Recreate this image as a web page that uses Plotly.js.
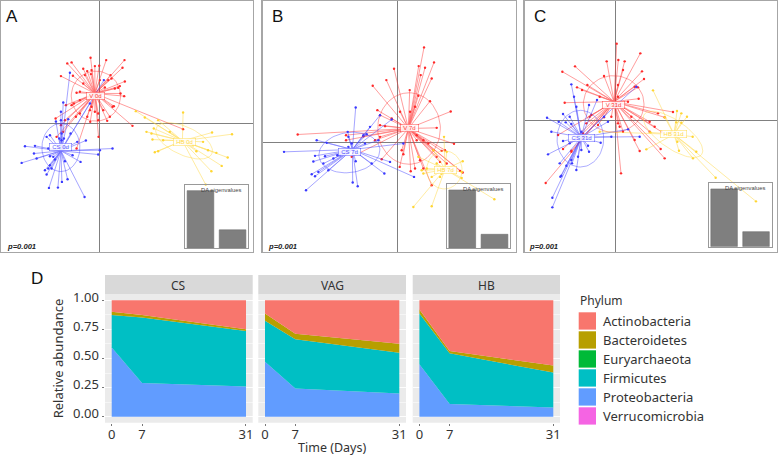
<!DOCTYPE html>
<html><head><meta charset="utf-8">
<script src="https://cdn.plot.ly/plotly-3.0.1.min.js"></script>
<style>html,body{margin:0;padding:0;background:#fff}#c{width:778px;height:456px}</style>
</head><body><div id="c"></div>
<script>
// Ordination scores: [discriminant 1, discriminant 2]
const aRed=[[-96,180],[-83,183],[-26,197],[21,190],[76,190],[-48,164],[-23,160],[0,173],[-13,172],[70,167],[-115,142],[-79,143],[-43,145],[-36,157],[-25,148],[34,145],[37,135],[77,126],[62,112],[57,107],[47,105],[-68,92],[-100,55],[-83,55],[-58,70],[64,90],[75,82],[40,50],[44,52],[32,20],[24,8],[-2,-40],[-3,10],[-27,5],[-36,20],[-58,30],[-70,20],[-131,15],[-103,10],[-115,-5],[-128,-40],[-108,-25],[100,-7],[252,-17],[-68,-75],[-3,30],[12,40],[-23,50],[-28,40],[-13,35],[-48,120],[2,130],[27,130],[17,108],[-58,95],[-76,60]];
const aBlue=[[-88,152],[-108,63],[-115,35],[-93,13],[-115,10],[-130,6],[-158,-40],[-148,-35],[-223,-68],[-193,-67],[-196,-90],[-233,-118],[-188,-105],[-163,-140],[-158,-153],[-143,-135],[-151,-193],[-124,-192],[-112,-175],[-95,-167],[-103,-113],[-80,-95],[-56,-115],[-44,-220],[-40,-51],[-66,-55],[2,-80],[40,-75],[-3,-93],[-113,-50],[-120,-45],[-113,-30],[-106,-45],[-153,-75],[-148,-98],[-138,-100],[-148,-125],[-153,-135],[-133,-108],[-105,-70],[14,130],[-28,60],[-86,-30]];
const aYellow=[[110,37],[252,33],[137,18],[177,10],[164,-15],[142,-25],[160,-48],[157,-30],[339,-27],[399,-32],[320,-183],[337,-143],[368,-127],[386,-102],[352,-88],[327,-80],[292,-83],[312,-55],[167,-86],[177,-83],[192,-50],[212,-25],[282,-65]];
const bRed=[[80,286],[110,241],[-10,222],[64,230],[83,225],[70,203],[103,193],[-33,188],[-74,171],[37,158],[63,141],[98,125],[160,94],[-60,98],[-52,83],[53,108],[38,93],[8,93],[-17,73],[-52,53],[-37,50],[-299,25],[118,45],[170,-3],[143,-22],[133,-24],[196,-89],[188,-84],[148,-62],[128,-57],[118,-42],[103,-127],[78,-77],[68,-52],[53,-77],[40,-85],[7,-72],[18,-34],[13,-22],[-47,-49],[-137,-42],[-154,8],[-154,23],[-102,20],[-52,18],[-67,8],[78,8],[93,-2],[108,-22],[58,8],[58,23],[18,48],[28,38]];
const bBlue=[[-125,106],[-52,83],[-17,70],[-82,48],[-149,33],[-147,18],[-212,0],[-242,8],[-340,-27],[-247,-39],[-217,-40],[-252,-56],[-222,-62],[-192,-47],[-257,-94],[-247,-100],[-237,-87],[-207,-82],[-274,-142],[-134,-119],[-119,-130],[-39,-92],[50,-102],[-22,-57],[-77,-62],[-125,-55],[-147,-12],[-92,26],[-57,8],[18,-2],[-97,-2],[-102,23],[-137,-2],[-172,-37],[-180,-37]];
const bYellow=[[140,18],[196,-55],[193,-87],[193,-105],[291,-169],[48,-192],[103,-190],[128,-102],[103,-102],[78,-92],[88,-77],[108,-22],[148,-27],[73,-82],[133,-92],[118,-62],[63,-42]];
const cRed=[[4,230],[75,201],[-26,177],[9,181],[28,177],[-121,162],[-159,146],[80,147],[23,151],[86,124],[-34,133],[8,106],[58,101],[68,99],[-115,99],[-100,91],[-84,106],[70,65],[38,56],[-152,53],[-47,71],[8,71],[173,25],[128,21],[148,9],[136,-86],[148,-114],[73,-92],[58,-59],[17,-159],[23,-34],[13,-19],[-12,11],[-34,9],[-87,-9],[-97,-39],[-172,-44],[-157,-86],[-132,-91],[-209,-188],[-132,-94],[118,-19],[138,-34],[48,11],[8,-9],[103,-4],[-52,-14],[-72,16],[-77,11],[103,-34]];
const cBlue=[[63,101],[-55,61],[-132,108],[-124,71],[-117,41],[-79,46],[-157,19],[-205,8],[-170,-4],[-149,-6],[-137,11],[-132,-11],[-192,-34],[-157,-62],[-137,-69],[-202,-102],[-167,-129],[-82,-76],[-79,-94],[-44,-67],[73,-49],[-12,-49],[38,-27],[-22,-4],[-34,11],[-102,-34],[-132,-119],[-147,-136],[-117,-149],[-130,-129],[-165,-169],[-162,-166],[-189,-232],[-189,-261],[-102,-89],[-112,-109]];
const cYellow=[[113,90],[185,28],[198,21],[215,11],[148,9],[183,-6],[198,-7],[232,-49],[105,-36],[93,-87],[243,-94],[233,-114],[191,-91],[186,-64],[301,-172],[422,-243],[-47,-34],[168,-34]];
// centroids of the groups
const aCentroids=[[-13,90],[-115,-82],[250,-52]];
const bCentroids=[[33,43],[-135,-20],[143,-79]];
const cCentroids=[[-4,56],[-102,-51],[176,-42]];
// inertia ellipses: centre x, centre y, semi-axis 1, semi-axis 2, tilt in degrees
const aEllipses=[[-10,82,74,75,0],[-115,-72,72,57,90],[255,-52,92,42,-25]];
const bEllipses=[[35,43,107,94,90],[-144,-29,92,60,8],[141,-81,57,53,90]];
const cEllipses=[[-5,49,91,85,0],[-105,-55,85,70,90],[173,-42,105,42,-35]];
const aLabels=['V 0d','CS 0d','HB 0d'];
const bLabels=['V 7d','CS 7d','HB 7d'];
const cLabels=['V 31d','CS 31d','HB 31d'];
const aLabelAt=[[-11,82],[-115,-70],[255,-54]];
const bLabelAt=[[35,43],[-144,-27],[143,-81]];
const cLabelAt=[[-7,45],[-102,-53],[174,-42]];
const aEigen=[1,0.32], bEigen=[1,0.24], cEigen=[1,0.26];
const pValue='p=0.001';

// Relative abundance by day
const days=[0,7,31];
const phyla=['Actinobacteria','Bacteroidetes','Euryarchaeota','Firmicutes','Proteobacteria','Verrucomicrobia'];
const phylumColors=['#F8766D','#B79F00','#00BA38','#00BFC4','#619CFF','#F564E3'];
const csValues=[[0.10,0.128,0.25],[0.028,0.02,0.015],[0,0,0],[0.277,0.562,0.475],[0.595,0.29,0.26],[0,0,0]];
const vagValues=[[0.114,0.288,0.373],[0.063,0.048,0.077],[0,0,0],[0.35,0.422,0.35],[0.473,0.242,0.20],[0,0,0]];
const hbValues=[[0.08,0.436,0.56],[0.034,0.02,0.061],[0,0,0],[0.436,0.434,0.299],[0.45,0.11,0.08],[0,0,0]];
const facets=['CS','VAG','HB'];
const yTicks=[0,0.25,0.5,0.75,1];
const yTickText=['0.00','0.25','0.50','0.75','1.00'];

const W=778,H=456;
const px=(a,b)=>[a/W,b/W], py=(top,bot)=>[1-bot/H,1-top/H];
const SF='Liberation Sans, Arial, sans-serif', BF='Noto Sans, sans-serif', INK='#333333';
const groupColors=['#ff2a2a','#3a3aff','#ffd633'];
const traces=[], shapes=[], annotations=[], layout={};

function ellipse(e){const xs=[],ys=[],t=e[4]*Math.PI/180;
  for(let i=0;i<=72;i++){const u=i/72*2*Math.PI,p=e[2]*Math.cos(u),q=e[3]*Math.sin(u);
    xs.push(e[0]+p*Math.cos(t)-q*Math.sin(t));ys.push(e[1]+p*Math.sin(t)+q*Math.cos(t));}
  return [xs,ys];}
function note(x,y,text,font,xanchor){annotations.push({xref:'paper',yref:'paper',x:x/W,y:1-y/H,xanchor:xanchor||'center',yanchor:'middle',text,showarrow:false,font});}

const panels=[
 {id:'',dx:[1,253],dy:[1,252],rx:[-295,462],ry:[-385,367],g:[aRed,aBlue,aYellow],c:aCentroids,e:aEllipses,l:aLabels,at:aLabelAt,
  inset:{id:4,x:[185,248.3],y:[185,248.3],v:aEigen},letter:'A',lx:12,px:4.5},
 {id:2,dx:[262.7,515.7],dy:[1,252],rx:[-404,355],ry:[-327,425],g:[bRed,bBlue,bYellow],c:bCentroids,e:bEllipses,l:bLabels,at:bLabelAt,
  inset:{id:5,x:[446.7,510.3],y:[184.3,248.3],v:bEigen},letter:'B',lx:277.5,px:266},
 {id:3,dx:[524.7,777.3],dy:[1,251.7],rx:[-272,486],ry:[-394,358],g:[cRed,cBlue,cYellow],c:cCentroids,e:cEllipses,l:cLabels,at:cLabelAt,
  inset:{id:6,x:[708.7,771.7],y:[183.3,246.7],v:cEigen},letter:'C',lx:540,px:527}
];
panels.forEach(P=>{
  const xa='x'+P.id, ya='y'+P.id, xk='xaxis'+P.id, yk='yaxis'+P.id;
  const ax={showgrid:false,showticklabels:false,ticks:'',zeroline:true,zerolinecolor:'#808080',zerolinewidth:1,
            showline:true,linecolor:'#a6a6a6',linewidth:1.3,mirror:true};
  layout[xk]=Object.assign({},ax,{domain:px(P.dx[0],P.dx[1]),range:P.rx,anchor:ya});
  layout[yk]=Object.assign({},ax,{domain:py(P.dy[0],P.dy[1]),range:P.ry,anchor:xa});
  P.g.forEach((pts,k)=>{
    const lx=[],ly=[];
    pts.forEach(p=>{lx.push(P.c[k][0],p[0],null);ly.push(P.c[k][1],p[1],null);});
    traces.push({type:'scatter',mode:'lines',x:lx,y:ly,xaxis:xa,yaxis:ya,showlegend:false,hoverinfo:'skip',
      line:{color:groupColors[k],width:0.65},opacity:0.7});
    const el=ellipse(P.e[k]);
    traces.push({type:'scatter',mode:'lines',x:el[0],y:el[1],xaxis:xa,yaxis:ya,showlegend:false,hoverinfo:'skip',
      line:{color:groupColors[k],width:0.6},opacity:0.7});
    traces.push({type:'scatter',mode:'markers',x:pts.map(p=>p[0]),y:pts.map(p=>p[1]),xaxis:xa,yaxis:ya,showlegend:false,
      marker:{color:groupColors[k],size:2.4}});
    annotations.push({xref:xa,yref:ya,x:P.at[k][0],y:P.at[k][1],text:P.l[k],showarrow:false,
      width:P.l[k].length*4.2,height:5.5,
      font:{family:SF,size:6,color:groupColors[k]},bgcolor:'#ffffff',bordercolor:groupColors[k],borderwidth:0.5,borderpad:0.5,opacity:0.85});
  });
  // eigenvalue inset
  const n=P.inset.id;
  layout['xaxis'+n]={domain:px(P.inset.x[0],P.inset.x[1]),range:[-0.482,1.49],anchor:'y'+n,showgrid:false,showticklabels:false,ticks:'',zeroline:false,
    showline:true,linecolor:'#999999',linewidth:1,mirror:true};
  layout['yaxis'+n]={domain:py(P.inset.y[0],P.inset.y[1]),range:[0,1.098],anchor:'x'+n,showgrid:false,showticklabels:false,ticks:'',zeroline:false,
    showline:true,linecolor:'#999999',linewidth:1,mirror:true};
  traces.push({type:'bar',x:[0,1],y:P.inset.v,xaxis:'x'+n,yaxis:'y'+n,width:0.83,showlegend:false,
    marker:{color:'#7f7f7f',line:{color:'#6e6e6e',width:0.6}}});
  note(P.inset.x[1]-5,P.inset.y[0]+5,'DA eigenvalues',{family:SF,size:5.8,color:'#444'},'right');
  note(P.lx,16,P.letter,{family:SF,size:17,color:'#111'});
  note(P.px,246,'<b><i>'+pValue+'</i></b>',{family:SF,size:7.6,color:'#222'},'left');
});

// Facets
const facetValues=[csValues,vagValues,hbValues];
const facetX=[[105,252.7],[258.3,406],[412.7,560]];
facetValues.forEach((vals,f)=>{
  const n=7+f, xa='x'+n, ya='y'+n;
  layout['xaxis'+n]={domain:px(facetX[f][0],facetX[f][1]),range:[-1.55,32.55],anchor:ya,tickvals:days,ticktext:days.map(String),
    ticks:'outside',ticklen:2.5,tickcolor:'#555',tickwidth:0.8,showgrid:false,zeroline:false,showline:false,ticklabelstandoff:-3,
    tickfont:{family:BF,size:13,color:INK}};
  layout['yaxis'+n]={domain:py(294.3,422.7),range:[-0.05,1.05],anchor:xa,tickvals:yTicks,ticktext:f===0?yTickText:yTicks.map(()=>''),
    ticks:f===0?'outside':'',ticklen:2.5,tickcolor:'#555',tickwidth:0.8,showgrid:true,gridcolor:'#ffffff',gridwidth:0.9,zeroline:false,showline:false,ticklabelshift:-3,
    minor:{tick0:0.125,dtick:0.25,showgrid:true,gridcolor:'#ffffff',gridwidth:0.5,ticks:''},
    tickfont:{family:BF,size:13,color:INK}};
  shapes.push({type:'rect',xref:xa+' domain',yref:ya+' domain',x0:0,x1:1,y0:0,y1:1,layer:'below',fillcolor:'#ebebeb',line:{width:0}});
  shapes.push({type:'rect',xref:'paper',yref:'paper',x0:facetX[f][0]/W,x1:facetX[f][1]/W,y0:1-294.3/H,y1:1-275/H,layer:'below',fillcolor:'#d9d9d9',line:{width:0}});
  note((facetX[f][0]+facetX[f][1])/2,285,facets[f],{family:BF,size:12,color:INK});
  for(let k=phyla.length-1;k>=0;k--){
    traces.push({type:'scatter',mode:'none',x:days,y:vals[k],xaxis:xa,yaxis:ya,stackgroup:'s'+f,name:phyla[k],showlegend:false,
      fillcolor:phylumColors[k],line:{width:0}});
  }
});
layout.yaxis7.title={text:'Relative abundance',font:{family:BF,size:13,color:INK},standoff:6};
layout.xaxis8.title={text:'Time (Days)',font:{family:BF,size:12.5,color:INK},standoff:4};

// Panel D letter and phylum key
note(37,278.5,'D',{family:SF,size:17,color:'#111'});
note(578,300.7,'Phylum',{family:BF,size:12,color:INK},'left');
phyla.forEach((name,k)=>{
  const top=312.3+k*19;
  shapes.push({type:'rect',xref:'paper',yref:'paper',x0:578.7/W,x1:596/W,y0:1-(top+17.3)/H,y1:1-top/H,fillcolor:phylumColors[k],line:{width:0}});
  note(601,top+8.6,name,{family:BF,size:13,color:INK},'left');
});

Object.assign(layout,{width:W,height:H,margin:{l:0,r:0,t:0,b:0},paper_bgcolor:'#ffffff',plot_bgcolor:'rgba(0,0,0,0)',
  showlegend:false,barmode:'overlay',shapes,annotations,font:{family:BF}});
Plotly.newPlot('c',traces,layout,{staticPlot:true,displayModeBar:false});
</script></body></html>
